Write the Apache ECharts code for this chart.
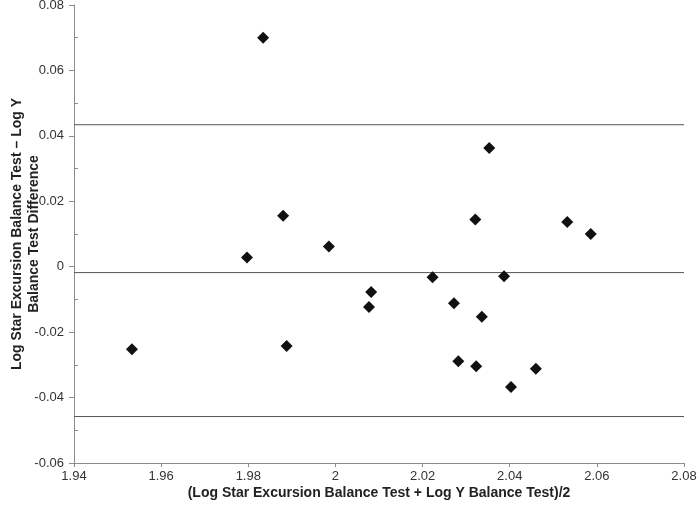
<!DOCTYPE html>
<html>
<head>
<meta charset="utf-8">
<script src="https://cdn.jsdelivr.net/npm/echarts@6/dist/echarts.min.js"></script>
<style>
  html, body { margin: 0; padding: 0; background: #fff; }
  #chart { width: 697px; height: 506px; }
</style>
</head>
<body>
<div id="chart"></div>
<script>
// mean of the two tests (x) against their difference (y)
const meanValues = [
  1.9533, 1.9797, 1.9834, 1.9880, 1.9888, 1.9985, 2.0077, 2.0082, 2.0223, 2.0272,
  2.0282, 2.0321, 2.0323, 2.0336, 2.0353, 2.0387, 2.0403, 2.0460, 2.0532, 2.0586
];
const diffValues = [
  -0.0252, 0.0028, 0.0700, 0.0156, -0.0242, 0.0062, -0.0123, -0.0077, -0.0032, -0.0112,
  -0.0289, 0.0144, -0.0304, -0.0153, 0.0363, -0.0029, -0.0368, -0.0312, 0.0137, 0.0100
];
// mean difference and limits of agreement
const limitLines = [0.0434, -0.0018, -0.0458];
const lineRange = [1.94, 2.08];
const yMinorTicks = [-0.05, -0.03, -0.01, 0.01, 0.03, 0.05, 0.07];

const points = meanValues.map((x, i) => [x, diffValues[i]]);

const chart = echarts.init(document.getElementById("chart"));
const axisGrey = "#8c8c8c";
const font = "Liberation Sans, Arial, sans-serif";

const limitSeries = limitLines.map((v) => ({
  type: "line",
  data: lineRange.map((x) => [x, v]),
  symbol: "none",
  silent: true,
  lineStyle: { color: "#555", width: 1 },
  z: 1,
}));

chart.setOption({
  animation: false,
  grid: {
    left: 74,
    right: 13,
    top: 5,
    bottom: 43,
    containLabel: false,
    outerBoundsMode: "none",
  },
  xAxis: {
    type: "value",
    min: 1.94,
    max: 2.08,
    interval: 0.02,
    name: "(Log Star Excursion Balance Test + Log Y Balance Test)/2",
    nameLocation: "middle",
    nameGap: 23,
    nameMoveOverlap: false,
    nameTextStyle: { fontFamily: font, fontSize: 14, fontWeight: "bold", color: "#222" },
    axisLine: { onZero: false, lineStyle: { color: axisGrey } },
    axisTick: { length: 4, lineStyle: { color: axisGrey } },
    axisLabel: { fontFamily: font, fontSize: 13, color: "#333", margin: 7 },
    splitLine: { show: false },
  },
  yAxis: [
    {
      type: "value",
      min: -0.06,
      max: 0.08,
      interval: 0.02,
      name: "Log Star Excursion Balance Test \u2013 Log Y\nBalance Test Difference",
      nameLocation: "middle",
      nameGap: 31,
      nameMoveOverlap: false,
      nameTextStyle: { fontFamily: font, fontSize: 14, fontWeight: "bold", color: "#222", lineHeight: 17 },
      axisLine: { show: true, onZero: false, lineStyle: { color: axisGrey } },
      axisTick: { show: true, length: 5, lineStyle: { color: axisGrey } },
      axisLabel: { fontFamily: font, fontSize: 13, color: "#333", margin: 10 },
      splitLine: { show: false },
    },
    {
      // inner minor ticks
      type: "value",
      position: "left",
      min: -0.06,
      max: 0.08,
      interval: 0.01,
      axisLine: { show: false, onZero: false },
      axisTick: {
        show: true,
        inside: true,
        length: 4,
        customValues: yMinorTicks,
        lineStyle: { color: axisGrey },
      },
      axisLabel: { show: false },
      splitLine: { show: false },
    },
  ],
  series: [
    ...limitSeries,
    {
      type: "scatter",
      data: points,
      symbol: "diamond",
      symbolSize: [12, 12],
      itemStyle: { color: "#111", opacity: 1 },
      z: 3,
    },
  ],
});
</script>
</body>
</html>
